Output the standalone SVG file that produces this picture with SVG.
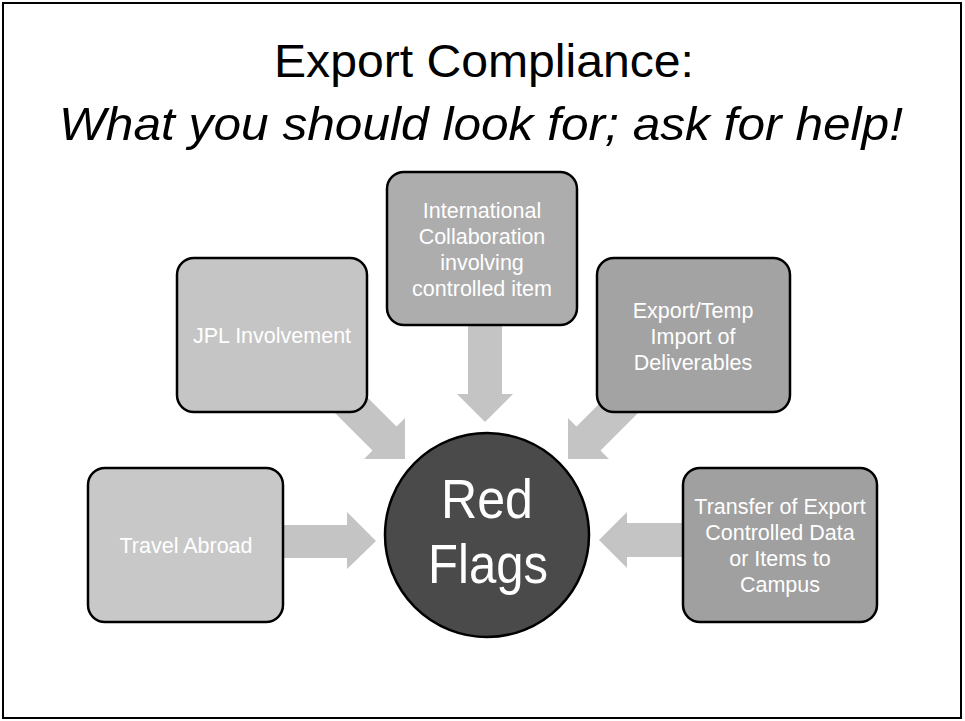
<svg xmlns="http://www.w3.org/2000/svg" width="965" height="721" viewBox="0 0 965 721">
<style>
.title{font-family:"Liberation Sans",Arial,sans-serif;font-size:47px;fill:#000;text-anchor:middle}
.box{stroke:#000;stroke-width:2.5}
.lbl{font-family:"Liberation Sans",Arial,sans-serif;font-size:21.5px;fill:#ffffff;text-anchor:middle}
.big{font-family:"Liberation Sans",Arial,sans-serif;font-size:56px;fill:#ffffff;text-anchor:middle}
.arrow{fill:#c4c4c4}
</style>
<rect x="3" y="3" width="958" height="715" fill="#ffffff" stroke="#000" stroke-width="2"/>
<g id="title">
<text class="title" x="484" y="77" textLength="420" lengthAdjust="spacingAndGlyphs">Export Compliance:</text>
<text class="title" x="481" y="140" font-style="italic" textLength="844" lengthAdjust="spacingAndGlyphs">What you should look for; ask for help!</text>
</g>
<g id="connectors">
<polygon class="arrow" points="270,525 347,525 347,512 376,541 347,569 347,558 270,558"/>
<polygon class="arrow" points="690,523 627,523 627,512 599,540 627,568 627,557 690,557"/>
<polygon class="arrow" points="468,318 502,318 502,394 513,394 485,422 457,394 468,394"/>
<polygon class="arrow" points="347,377 396.5,426.5 405,418 405,459 364,459 372.5,450.5 323,401"/>
<polygon class="arrow" points="626,377 576.5,426.5 568,418 568,459 609,459 600.5,450.5 650,401"/>
</g>
<g id="node-jpl">
<rect class="box" x="177" y="258" width="190" height="154" rx="17" fill="#c5c5c5"/>
<text class="lbl" x="272" y="343">JPL Involvement</text>
</g>
<g id="node-international">
<rect class="box" x="387" y="172" width="190" height="153" rx="17" fill="#adadad"/>
<text class="lbl" x="482" y="218">International</text>
<text class="lbl" x="482" y="244">Collaboration</text>
<text class="lbl" x="482" y="270">involving</text>
<text class="lbl" x="482" y="296">controlled item</text>
</g>
<g id="node-export">
<rect class="box" x="597" y="258" width="193" height="154" rx="17" fill="#a3a3a3"/>
<text class="lbl" x="693" y="318">Export/Temp</text>
<text class="lbl" x="693" y="344">Import of</text>
<text class="lbl" x="693" y="370">Deliverables</text>
</g>
<g id="node-travel">
<rect class="box" x="88" y="468" width="195" height="154" rx="17" fill="#c8c8c8"/>
<text class="lbl" x="186" y="553">Travel Abroad</text>
</g>
<g id="node-transfer">
<rect class="box" x="683" y="468" width="194" height="154" rx="17" fill="#a0a0a0"/>
<text class="lbl" x="780" y="514">Transfer of Export</text>
<text class="lbl" x="780" y="540">Controlled Data</text>
<text class="lbl" x="780" y="566">or Items to</text>
<text class="lbl" x="780" y="592">Campus</text>
</g>
<g id="node-redflags">
<circle cx="487" cy="535" r="102" fill="#4a4a4a" stroke="#000" stroke-width="2.5"/>
<text class="big" x="487" y="518" textLength="92" lengthAdjust="spacingAndGlyphs">Red</text>
<text class="big" x="488" y="583" textLength="120" lengthAdjust="spacingAndGlyphs">Flags</text>
</g>
</svg>
